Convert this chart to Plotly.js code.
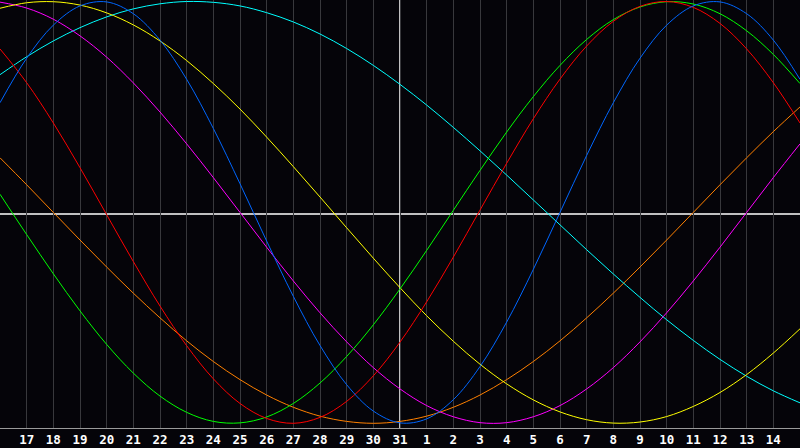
<!DOCTYPE html>
<html>
<head>
<meta charset="utf-8">
<script src="https://cdn.plot.ly/plotly-3.0.1.min.js"></script>
<style>
html,body{margin:0;padding:0;background:#050409;}
#chart{width:800px;height:448px;}
</style>
</head>
<body>
<div id="chart"></div>
<script>
// Day labels (one per sampled day, 16th of the month to 15th of the next)
const days = ['16','17','18','19','20','21','22','23','24','25','26','27','28','29','30','31',
              '1','2','3','4','5','6','7','8','9','10','11','12','13','14','15'];
const todayLabel = '31';

// Cycle values (-1 .. 1), one per day
const cycle23 = [0.520,0.731,0.888,0.979,0.998,0.942,0.817,0.631,0.398,0.136,-0.136,-0.398,-0.631,-0.817,-0.942,-0.998,-0.979,-0.888,-0.731,-0.520,-0.270,0.000,0.270,0.520,0.731,0.888,0.979,0.998,0.942,0.817,0.631];
const cycle28 = [0.775,0.615,0.424,0.212,-0.011,-0.233,-0.444,-0.632,-0.789,-0.906,-0.977,-1.000,-0.972,-0.896,-0.775,-0.615,-0.424,-0.212,0.011,0.233,0.444,0.632,0.789,0.906,0.977,1.000,0.972,0.896,0.775,0.615,0.424];
const cycle33 = [0.086,-0.105,-0.291,-0.467,-0.626,-0.762,-0.871,-0.948,-0.991,-0.998,-0.970,-0.906,-0.809,-0.683,-0.533,-0.363,-0.180,0.010,0.199,0.381,0.549,0.697,0.820,0.914,0.974,0.999,0.988,0.942,0.861,0.749,0.611];
const cycle38 = [0.997,0.969,0.916,0.837,0.736,0.614,0.476,0.325,0.165,0.000,-0.165,-0.325,-0.476,-0.614,-0.736,-0.837,-0.916,-0.969,-0.997,-0.997,-0.969,-0.916,-0.837,-0.736,-0.614,-0.476,-0.325,-0.165,0.000,0.165,0.325];
const cycle43 = [0.968,0.994,0.999,0.983,0.946,0.889,0.813,0.720,0.611,0.490,0.357,0.217,0.073,-0.073,-0.217,-0.357,-0.490,-0.611,-0.720,-0.813,-0.889,-0.946,-0.983,-0.999,-0.994,-0.968,-0.920,-0.854,-0.769,-0.667,-0.552];
const cycle48 = [0.259,0.131,0.000,-0.131,-0.259,-0.383,-0.500,-0.609,-0.707,-0.793,-0.866,-0.924,-0.966,-0.991,-1.000,-0.991,-0.966,-0.924,-0.866,-0.793,-0.707,-0.609,-0.500,-0.383,-0.259,-0.131,0.000,0.131,0.259,0.383,0.500];
const cycle53 = [0.653,0.738,0.813,0.876,0.927,0.965,0.989,1.000,0.996,0.979,0.947,0.903,0.846,0.777,0.697,0.607,0.509,0.403,0.292,0.177,0.059,-0.059,-0.177,-0.292,-0.403,-0.509,-0.607,-0.697,-0.777,-0.846,-0.903];

const seriesNames = ['48','53','38','43','33','28','23'];
const seriesData  = [cycle48, cycle53, cycle38, cycle43, cycle33, cycle28, cycle23];
const seriesColors = ['#ff8000','#00ffff','#ff00ff','#ffff00','#00ff00','#ff0000','#0066ff'];

const xIdx = days.map((d,i)=>i);
const traces = seriesData.map((ys,k)=>({
  x: xIdx, y: ys, type:'scatter', mode:'lines', name: seriesNames[k],
  line:{color: seriesColors[k], width:1, shape:'spline', smoothing:1},
  hoverinfo:'skip'
}));

const tickIdx = xIdx.slice(1, days.length-1);
const tickTxt = tickIdx.map(i=>days[i]);
const todayIdx = days.indexOf(todayLabel);

const layout = {
  width:800, height:448,
  margin:{l:0,r:0,t:0,b:20,pad:0},
  paper_bgcolor:'#050409', plot_bgcolor:'#050409',
  showlegend:false,
  xaxis:{
    range:[0, days.length-1], tickvals: tickIdx, ticktext: tickTxt,
    showgrid:true, gridcolor:'#38383c', gridwidth:1,
    zeroline:false, showline:true, mirror:true, linecolor:'#9a9a9a', linewidth:1,
    ticks:'', tickfont:{family:'DejaVu Sans Mono', size:12.5, color:'#ffffff', weight:700},
    fixedrange:true
  },
  yaxis:{
    range:[-1.0223, 1.0071], showgrid:false, zeroline:false, showticklabels:false,
    showline:true, mirror:true, linecolor:'#9a9a9a', linewidth:1, fixedrange:true
  },
  shapes:[
    {type:'line', xref:'paper', yref:'paper', x0:0, x1:1, y0:0.5, y1:0.5, line:{color:'#ffffff', width:1.5}, layer:'below'},
    {type:'line', xref:'x', yref:'paper', x0:todayIdx, x1:todayIdx, y0:0, y1:1, line:{color:'#ffffff', width:1.5}, layer:'below'}
  ]
};

Plotly.newPlot('chart', traces, layout, {displayModeBar:false, staticPlot:true});
</script>
</body>
</html>
